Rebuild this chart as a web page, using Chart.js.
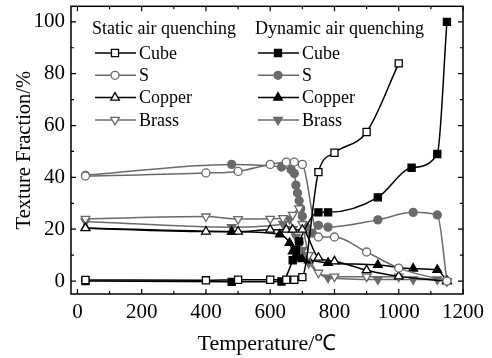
<!DOCTYPE html>
<html>
<head>
<meta charset="utf-8">
<script src="https://cdn.jsdelivr.net/npm/chart.js@4"></script>
<style>
  html, body { margin: 0; padding: 0; background: #fff; }
  #wrap { width: 492px; height: 358px; }
</style>
</head>
<body>
<div id="wrap"><canvas id="grafico" width="492" height="358"></canvas></div>
<script>
// Static air quenching (temperature in degC, texture fraction in %)
const staticCubeT = [25, 400, 500, 600, 650, 675, 700, 750, 800, 900, 1000];
const staticCubeV = [0.4, 0.3, 0.5, 0.5, 0.5, 0.5, 1.5, 42, 49.5, 57.5, 84];
const staticST = [25, 400, 500, 600, 650, 675, 700, 750, 800, 900, 1000, 1150];
const staticSV = [40.5, 41.7, 42.3, 45, 45.9, 45.9, 45, 17, 17, 11.2, 5, 0];
const staticCopperT = [25, 400, 500, 600, 650, 670, 700, 750, 800, 900, 1000, 1150];
const staticCopperV = [20.4, 19.1, 19.1, 19.8, 19.8, 19.8, 19.8, 9, 7.6, 4.2, 1.8, 0];
const staticBrassT = [25, 400, 500, 600, 640, 670, 690, 700, 720, 750, 800, 900, 1000, 1150];
const staticBrassV = [24, 24.9, 23.9, 24, 24.3, 25.5, 28, 22, 10, 3.2, 1.7, 1.7, 1.7, 0];

// Dynamic air quenching
const dynCubeT = [25, 480, 635, 670, 680, 690, 750, 780, 935, 1040, 1120, 1150];
const dynCubeV = [0, -0.3, -0.2, 8, 12, 15.3, 26.5, 26.5, 32.3, 43.7, 49, 100];
const dynST = [25, 480, 635, 665, 675, 680, 685, 690, 695, 700, 710, 730, 750, 780, 935, 1045, 1120, 1150];
const dynSV = [40.8, 45, 44, 43, 41.5, 37, 34, 31, 28, 25, 21, 18.5, 21.5, 20.8, 23.6, 26.5, 25.5, 0];
const dynCopperT = [25, 480, 630, 660, 670, 680, 690, 700, 720, 780, 935, 1045, 1120, 1150];
const dynCopperV = [20.5, 19, 18, 14.7, 11.5, 10, 9, 8.5, 8, 7, 6.2, 4.8, 4.3, 0];
const dynBrassT = [25, 480, 640, 660, 670, 680, 690, 700, 720, 780, 935, 1045, 1120, 1150];
const dynBrassV = [23, 20.8, 22, 24, 20, 17, 14, 12, 7, 1.3, 0.6, 0.6, 0.6, 0];

const xTicks = [0, 200, 400, 600, 800, 1000, 1200];
const yTicks = [0, 20, 40, 60, 80, 100];

const NEGRO = "#000000";
const GRIS = "#6a6a6a";
const FUENTE = "'Liberation Serif', 'Times New Roman', serif";

function puntos(ts, vs) {
  return ts.map((t, i) => ({ x: t, y: vs[i] }));
}

function serie(label, ts, vs, color, estilo, relleno, rot) {
  return {
    label,
    data: puntos(ts, vs),
    borderColor: color,
    backgroundColor: relleno ? color : "#ffffff",
    pointBorderColor: color,
    pointBackgroundColor: relleno ? color : "#ffffff",
    pointStyle: estilo,
    pointRotation: rot || 0,
    pointRadius: estilo === "rect" ? 5 : estilo === "circle" ? 4 : 5,
    pointBorderWidth: 1.3,
    borderWidth: 1.5,
    cubicInterpolationMode: "monotone",
    fill: false,
  };
}

const datasets = [
  serie("Cube", staticCubeT, staticCubeV, NEGRO, "rect", false),
  serie("S", staticST, staticSV, GRIS, "circle", false),
  serie("Copper", staticCopperT, staticCopperV, NEGRO, "triangle", false),
  serie("Brass", staticBrassT, staticBrassV, GRIS, "triangle", false, 180),
  serie("Cube", dynCubeT, dynCubeV, NEGRO, "rect", true),
  serie("S", dynST, dynSV, GRIS, "circle", true),
  serie("Copper", dynCopperT, dynCopperV, NEGRO, "triangle", true),
  serie("Brass", dynBrassT, dynBrassV, GRIS, "triangle", true, 180),
];

// marco y marcas hacia dentro en los cuatro lados
const marco = {
  id: "marco",
  afterDatasetsDraw(chart) {
    const { ctx, chartArea: a, scales: { x, y } } = chart;
    ctx.save();
    ctx.strokeStyle = NEGRO;
    ctx.lineWidth = 1.5;
    ctx.strokeRect(a.left, a.top, a.right - a.left, a.bottom - a.top);
    ctx.lineWidth = 1.2;
    ctx.beginPath();
    for (let v = 0; v <= 1200; v += 100) {
      const px = x.getPixelForValue(v);
      const len = v % 200 === 0 ? 5 : 3;
      ctx.moveTo(px, a.bottom); ctx.lineTo(px, a.bottom - len);
      ctx.moveTo(px, a.top); ctx.lineTo(px, a.top + len);
    }
    for (let v = 0; v <= 100; v += 10) {
      const py = y.getPixelForValue(v);
      const len = v % 20 === 0 ? 5 : 3;
      ctx.moveTo(a.left, py); ctx.lineTo(a.left + len, py);
      ctx.moveTo(a.right, py); ctx.lineTo(a.right - len, py);
    }
    ctx.stroke();
    ctx.restore();
  },
};

// leyenda en dos columnas con encabezados
const leyenda = {
  id: "leyenda",
  afterDraw(chart) {
    const { ctx } = chart;
    const cols = [
      { titulo: "Static air quenching", x0: 92, idx: [0, 1, 2, 3] },
      { titulo: "Dynamic air quenching", x0: 255, idx: [4, 5, 6, 7] },
    ];
    ctx.save();
    ctx.font = "18px " + FUENTE;
    ctx.fillStyle = NEGRO;
    ctx.textBaseline = "middle";
    cols.forEach((c) => {
      ctx.fillText(c.titulo, c.x0, 29);
      c.idx.forEach((k, j) => {
        const ds = chart.data.datasets[k];
        const yy = 53 + j * 22.3;
        ctx.strokeStyle = ds.borderColor;
        ctx.lineWidth = 1.5;
        ctx.beginPath();
        ctx.moveTo(c.x0 + 3, yy);
        ctx.lineTo(c.x0 + 44, yy);
        ctx.stroke();
        ctx.fillStyle = ds.pointBackgroundColor;
        ctx.strokeStyle = ds.pointBorderColor;
        ctx.lineWidth = 1.3;
        Chart.helpers.drawPoint(ctx, {
          pointStyle: ds.pointStyle,
          rotation: ds.pointRotation,
          radius: ds.pointRadius,
          borderWidth: 1.3,
        }, c.x0 + 23, yy);
        ctx.fillStyle = NEGRO;
        ctx.fillText(ds.label, c.x0 + 47, yy + 1);
      });
    });
    ctx.restore();
  },
};

new Chart(document.getElementById("grafico").getContext("2d"), {
  type: "line",
  data: { datasets },
  options: {
    responsive: false,
    animation: false,
    layout: { padding: { left: 8, right: 29, top: 5, bottom: 1 } },
    plugins: { legend: { display: false }, tooltip: { enabled: false } },
    scales: {
      x: {
        type: "linear",
        min: -20,
        max: 1200,
        afterBuildTicks: (s) => { s.ticks = xTicks.map((v) => ({ value: v })); },
        afterFit: (s) => { s.height = 63; s.paddingLeft = 0; s.paddingRight = 0; },
        grid: { display: false, drawTicks: false },
        border: { display: false },
        ticks: { color: NEGRO, font: { family: FUENTE, size: 21 }, padding: 6, maxRotation: 0, callback: (v) => String(v) },
        title: { display: true, text: "Temperature/℃", color: NEGRO, font: { family: FUENTE, size: 22 }, padding: { top: 2, bottom: 0 } },
      },
      y: {
        min: -5,
        max: 106,
        afterBuildTicks: (s) => { s.ticks = yTicks.map((v) => ({ value: v })); },
        afterFit: (s) => { s.width = 63; s.paddingTop = 0; s.paddingBottom = 0; },
        grid: { display: false, drawTicks: false },
        border: { display: false },
        ticks: { color: NEGRO, font: { family: FUENTE, size: 21 }, padding: 6, callback: (v) => String(v) },
        title: { display: true, text: "Texture Fraction/%", color: NEGRO, font: { family: FUENTE, size: 20.5 }, padding: { top: 4, bottom: 2 } },
      },
    },
  },
  plugins: [marco, leyenda],
});
</script>
</body>
</html>
